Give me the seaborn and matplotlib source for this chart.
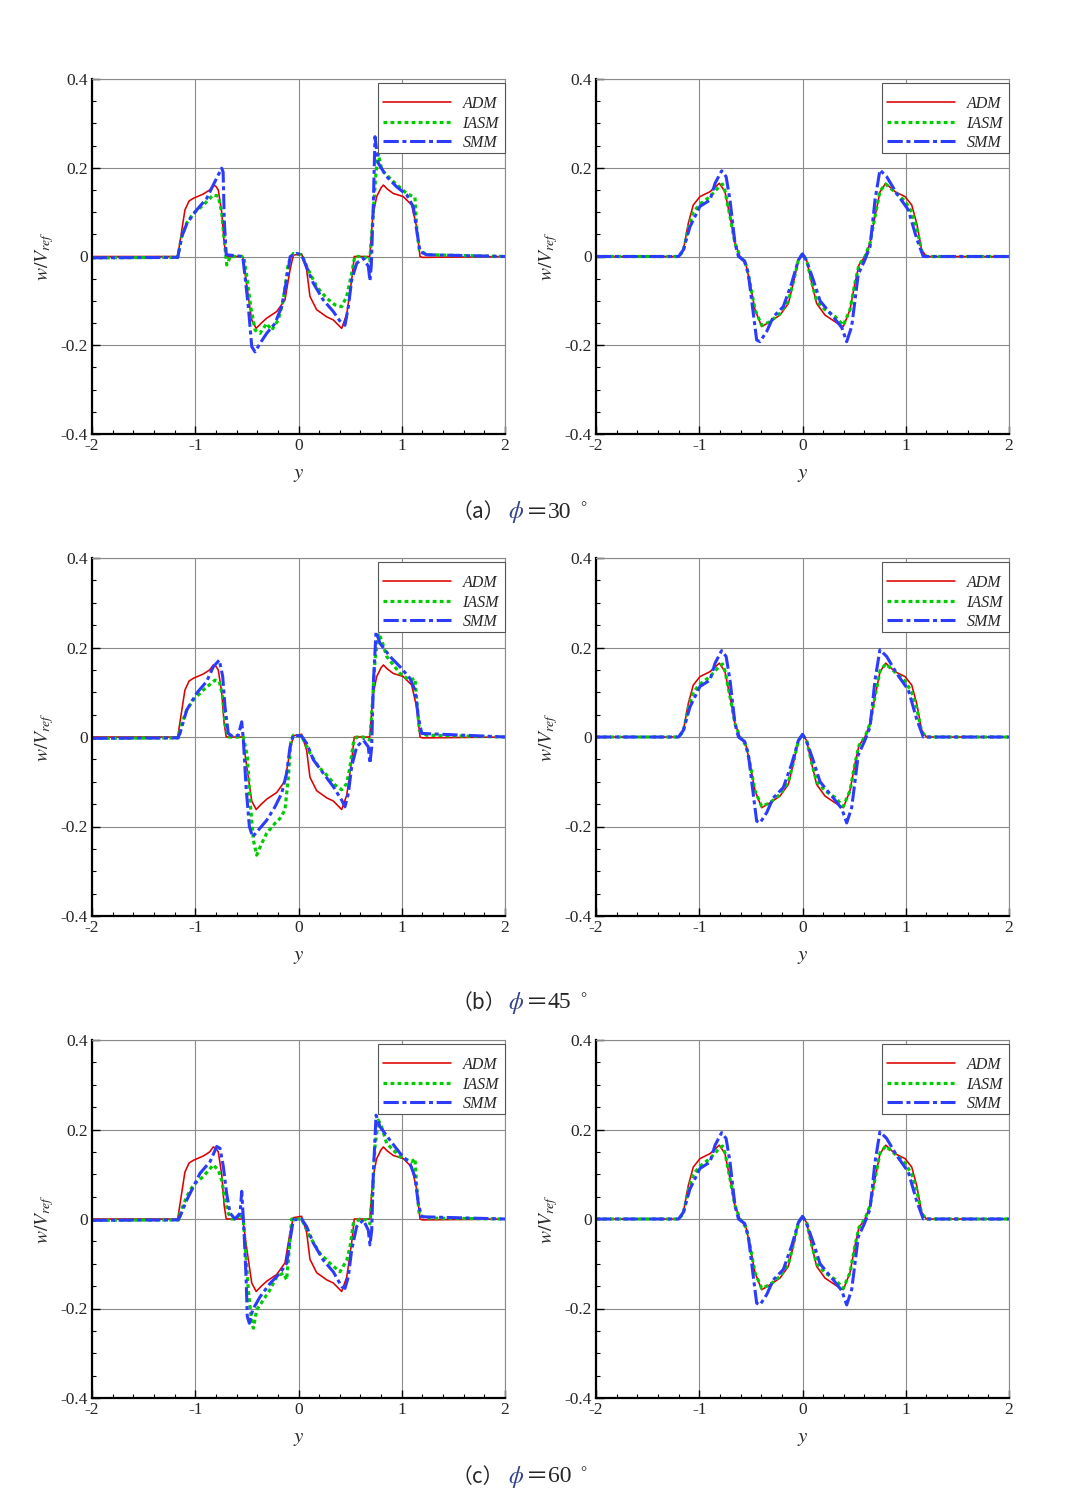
import matplotlib
matplotlib.use("Agg")
import matplotlib.pyplot as plt
import seaborn as sns
import pandas as pd
from matplotlib.ticker import MultipleLocator
from matplotlib.patches import Rectangle

# ---------------- data ----------------
X_TICKS = [-2, -1, 0, 1, 2]
X_TICKLABELS = ["-2", "-1", "0", "1", "2"]
Y_TICKS = [-0.4, -0.2, 0.0, 0.2, 0.4]
Y_TICKLABELS = ["-0.4", "-0.2", "0", "0.2", "0.4"]
SERIES = ["ADM", "IASM", "SMM"]
CAPTIONS = ["（a）", "（b）", "（c）"]
ANGLES = ["30", "45", "60"]

# left column, ADM (same in all rows)
ADM_L_Y = [-2, -1.17, -1.13, -1.10, -1.06, -1.02, -0.92, -0.86, -0.825, -0.80, -0.777, -0.744, -0.72, -0.70, -0.54,
           -0.50, -0.453, -0.41, -0.36, -0.308, -0.211, -0.131, -0.082, -0.05, 0.03, 0.079, 0.111, 0.176,
           0.273, 0.337, 0.418, 0.467, 0.515, 0.54, 0.69, 0.719, 0.757, 0.80, 0.822, 0.86, 0.918, 1.015,
           1.096, 1.144, 1.177, 1.2, 2]
ADM_L_W = [0, 0, 0.06, 0.105, 0.125, 0.131, 0.141, 0.150, 0.161, 0.158, 0.150, 0.10, 0.03, 0, 0,
           -0.068, -0.143, -0.162, -0.150, -0.139, -0.124, -0.098, -0.03, 0.003, 0.006, -0.03, -0.09, -0.12,
           -0.136, -0.143, -0.162, -0.13, -0.053, 0, 0, 0.09, 0.135, 0.155, 0.161, 0.152, 0.142, 0.135,
           0.116, 0.067, 0, -0.002, 0]

# row (a) left
IASM_A_Y = [-2, -1.17, -1.131, -1.083, -1.02, -0.922, -0.825, -0.777, -0.744, -0.719, -0.695, -0.66, -0.53,
            -0.496, -0.463, -0.42, -0.373, -0.308, -0.26, -0.196, -0.147, -0.099, -0.05, 0.03, 0.095,
            0.176, 0.273, 0.353, 0.418, 0.467, 0.515, 0.545, 0.6, 0.66, 0.69, 0.719, 0.75, 0.773, 0.806,
            0.918, 1.048, 1.128, 1.144, 1.17, 1.24, 2]
IASM_A_W = [-0.003, -0.002, 0.045, 0.075, 0.097, 0.116, 0.139, 0.136, 0.10, 0.037, -0.019, 0, 0,
            -0.053, -0.113, -0.166, -0.173, -0.151, -0.166, -0.143, -0.098, -0.015, 0.007, 0.004, -0.03,
            -0.068, -0.094, -0.109, -0.113, -0.09, -0.038, 0, 0, -0.003, -0.01, 0.082, 0.187, 0.232, 0.195,
            0.169, 0.142, 0.133, 0.067, 0.015, 0.004, 0]
SMM_A_Y = [-2, -1.17, -1.13, -1.08, -0.986, -0.889, -0.809, -0.744, -0.73, -0.719, -0.70, -0.54,
           -0.518, -0.486, -0.453, -0.421, -0.373, -0.308, -0.228, -0.163, -0.115, -0.08, -0.02, 0.03,
           0.08, 0.143, 0.24, 0.337, 0.418, 0.45, 0.483, 0.515, 0.564, 0.628, 0.676, 0.692, 0.705, 0.724,
           0.741, 0.773, 0.854, 0.951, 1.048, 1.112, 1.144, 1.177, 1.24, 2]
SMM_A_W = [-0.003, -0.002, 0.045, 0.075, 0.105, 0.131, 0.169, 0.199, 0.19, 0.082, 0.004, 0,
           -0.045, -0.113, -0.203, -0.215, -0.196, -0.173, -0.151, -0.113, -0.053, 0, 0.007, 0.004,
           -0.025, -0.06, -0.098, -0.124, -0.151, -0.155, -0.113, -0.053, -0.015, -0.004, -0.022, -0.055,
           -0.02, 0.112, 0.27, 0.21, 0.18, 0.157, 0.139, 0.112, 0.06, 0.011, 0.004, 0]

# row (b) left
IASM_B_Y = [-2, -1.163, -1.131, -1.083, -1.018, -0.922, -0.809, -0.767, -0.734, -0.712, -0.68, -0.534,
            -0.495, -0.47, -0.437, -0.405, -0.357, -0.308, -0.228, -0.179, -0.131, -0.098, -0.073, -0.05,
            0.03, 0.111, 0.192, 0.273, 0.353, 0.418, 0.467, 0.499, 0.531, 0.563, 0.628, 0.692, 0.718,
            0.741, 0.773, 0.805, 0.854, 0.983, 1.08, 1.128, 1.145, 1.17, 1.24, 2]
IASM_B_W = [-0.003, -0.002, 0.03, 0.06, 0.083, 0.105, 0.127, 0.124, 0.09, 0.03, 0, 0,
            -0.044, -0.141, -0.23, -0.264, -0.238, -0.215, -0.193, -0.182, -0.163, -0.089, -0.007, 0.004,
            0.002, -0.036, -0.066, -0.085, -0.107, -0.118, -0.104, -0.066, -0.014, 0, 0, -0.007, 0.083,
            0.172, 0.232, 0.217, 0.18, 0.142, 0.127, 0.131, 0.083, 0.015, 0.004, 0]
SMM_B_Y = [-2, -1.17, -1.148, -1.083, -0.986, -0.89, -0.825, -0.767, -0.734, -0.712, -0.68, -0.631, -0.583,
           -0.55, -0.534, -0.508, -0.476, -0.444, -0.389, -0.308, -0.228, -0.163, -0.115, -0.082, -0.05,
           0.03, 0.079, 0.144, 0.24, 0.337, 0.418, 0.45, 0.483, 0.515, 0.563, 0.628, 0.676, 0.692, 0.709,
           0.725, 0.751, 0.79, 0.886, 0.983, 1.08, 1.128, 1.16, 1.193, 2]
SMM_B_W = [-0.003, -0.002, 0.008, 0.06, 0.098, 0.124, 0.157, 0.172, 0.135, 0.068, 0.008, 0, 0.004,
           0.034, -0.007, -0.111, -0.2, -0.223, -0.208, -0.186, -0.156, -0.126, -0.081, -0.022, 0.004,
           0.002, -0.014, -0.051, -0.081, -0.111, -0.141, -0.156, -0.126, -0.066, -0.022, -0.007, -0.022,
           -0.059, -0.022, 0.12, 0.235, 0.209, 0.18, 0.157, 0.131, 0.105, 0.045, 0.008, 0]

# row (c) left
IASM_C_Y = [-2, -1.16, -1.148, -1.083, -1.018, -0.922, -0.825, -0.776, -0.744, -0.712, -0.68, -0.647, -0.6,
            -0.566, -0.534, -0.508, -0.486, -0.453, -0.437, -0.405, -0.341, -0.276, -0.211, -0.147, -0.115,
            -0.082, -0.066, 0.03, 0.111, 0.208, 0.305, 0.402, 0.467, 0.499, 0.531, 0.596, 0.66, 0.692,
            0.718, 0.741, 0.773, 0.805, 0.854, 0.983, 1.096, 1.128, 1.145, 1.17, 1.24, 2]
IASM_C_W = [-0.003, -0.002, 0.013, 0.05, 0.076, 0.095, 0.121, 0.109, 0.087, 0.042, 0.013, 0, 0,
            0.013, -0.002, -0.084, -0.158, -0.233, -0.244, -0.203, -0.181, -0.158, -0.129, -0.121, -0.136,
            -0.047, 0, 0, -0.04, -0.077, -0.099, -0.118, -0.092, -0.062, -0.01, 0, -0.002, -0.011,
            0.065, 0.162, 0.221, 0.206, 0.169, 0.139, 0.128, 0.135, 0.072, 0.009, 0.002, 0]
SMM_C_Y = [-2, -1.17, -1.148, -1.083, -1.018, -0.954, -0.857, -0.792, -0.76, -0.728, -0.696, -0.663, -0.615,
           -0.566, -0.55, -0.528, -0.508, -0.496, -0.476, -0.444, -0.373, -0.276, -0.179, -0.115, -0.082,
           -0.05, 0.03, 0.079, 0.144, 0.24, 0.337, 0.418, 0.45, 0.483, 0.515, 0.563, 0.628, 0.676, 0.692,
           0.709, 0.725, 0.751, 0.79, 0.886, 0.983, 1.08, 1.128, 1.16, 1.193, 2]
SMM_C_W = [-0.003, -0.002, 0.005, 0.042, 0.072, 0.102, 0.128, 0.162, 0.158, 0.117, 0.057, 0.013, 0,
           0.013, 0.062, -0.025, -0.129, -0.218, -0.233, -0.203, -0.174, -0.144, -0.121, -0.099, -0.047,
           -0.002, 0, -0.017, -0.054, -0.092, -0.118, -0.151, -0.155, -0.129, -0.069, -0.017, -0.002,
           -0.025, -0.058, -0.025, 0.102, 0.232, 0.206, 0.176, 0.147, 0.124, 0.094, 0.035, 0.005, 0]

# right column (same in all rows)
ADM_R_Y = [-2, -1.2, -1.154, -1.106, -1.058, -0.993, -0.896, -0.806, -0.751, -0.702, -0.654, -0.605, -0.547,
           -0.508, -0.46, -0.395, -0.315, -0.218, -0.137, -0.089, -0.04, 0, 0.04, 0.089, 0.137, 0.218,
           0.315, 0.395, 0.46, 0.508, 0.547, 0.605, 0.654, 0.702, 0.751, 0.806, 0.896, 0.993, 1.058,
           1.106, 1.154, 1.2, 2]
ADM_R_W = [0, 0, 0.015, 0.075, 0.116, 0.135, 0.146, 0.165, 0.146, 0.09, 0.03, 0, -0.019,
           -0.06, -0.12, -0.158, -0.147, -0.132, -0.106, -0.06, -0.008, 0.006, -0.008, -0.06, -0.106, -0.132,
           -0.147, -0.158, -0.12, -0.06, -0.019, 0, 0.03, 0.09, 0.146, 0.165, 0.146, 0.135, 0.116,
           0.075, 0.015, 0, 0]
IASM_R_Y = [-2, -1.2, -1.154, -1.106, -1.058, -0.993, -0.896, -0.806, -0.775, -0.751, -0.702, -0.654, -0.605,
            -0.547, -0.508, -0.46, -0.395, -0.315, -0.218, -0.137, -0.089, -0.04, 0, 0.04, 0.089, 0.137,
            0.218, 0.315, 0.395, 0.46, 0.508, 0.547, 0.605, 0.654, 0.702, 0.751, 0.806, 0.896, 0.993,
            1.058, 1.106, 1.154, 1.2, 2]
IASM_R_W = [0, 0, 0.012, 0.065, 0.1, 0.118, 0.135, 0.158, 0.163, 0.148, 0.09, 0.03, 0,
            -0.019, -0.06, -0.12, -0.155, -0.147, -0.128, -0.1, -0.058, -0.008, 0.006, -0.008, -0.058, -0.1,
            -0.12, -0.135, -0.155, -0.12, -0.06, -0.019, 0, 0.03, 0.09, 0.148, 0.163, 0.145, 0.125,
            0.1, 0.065, 0.012, 0, 0]
SMM_R_Y = [-2, -1.2, -1.154, -1.09, -0.993, -0.896, -0.847, -0.783, -0.74, -0.702, -0.654, -0.62, -0.56,
           -0.525, -0.492, -0.444, -0.412, -0.347, -0.283, -0.186, -0.105, -0.04, 0, 0.04, 0.105, 0.17,
           0.298, 0.38, 0.428, 0.476, 0.508, 0.54, 0.6, 0.654, 0.702, 0.75, 0.815, 0.912, 1.025, 1.106,
           1.17, 1.2, 2]
SMM_R_W = [0, 0, 0.015, 0.067, 0.113, 0.127, 0.165, 0.193, 0.18, 0.127, 0.03, 0, -0.01,
           -0.038, -0.10, -0.188, -0.192, -0.169, -0.136, -0.113, -0.06, -0.008, 0.006, -0.01, -0.053, -0.10,
           -0.136, -0.16, -0.192, -0.158, -0.10, -0.04, -0.01, 0.022, 0.127, 0.195, 0.18, 0.142, 0.105, 0.04,
           0, 0, 0]

LEFT = [
    [(ADM_L_Y, ADM_L_W), (IASM_A_Y, IASM_A_W), (SMM_A_Y, SMM_A_W)],
    [(ADM_L_Y, ADM_L_W), (IASM_B_Y, IASM_B_W), (SMM_B_Y, SMM_B_W)],
    [(ADM_L_Y, ADM_L_W), (IASM_C_Y, IASM_C_W), (SMM_C_Y, SMM_C_W)],
]
RIGHT = [(ADM_R_Y, ADM_R_W), (IASM_R_Y, IASM_R_W), (SMM_R_Y, SMM_R_W)]

# ---------------- style ----------------
sns.set_style("white")
plt.rcParams["font.family"] = ["Liberation Serif", "Noto Sans CJK SC"]
plt.rcParams["mathtext.fontset"] = "stix"
plt.rcParams["axes.unicode_minus"] = False

STYLES = {
    "ADM": dict(color="#e00000", lw=1.15, linestyle="-"),
    "IASM": dict(color="#00cc00", lw=2.3, linestyle=(0, (1.2, 1.0))),
    "SMM": dict(color="#2b3cff", lw=2.2, linestyle=(0, (5.0, 1.2, 1.3, 1.2))),
}

W, H = 1075, 1502
fig = plt.figure(figsize=(W / 100, H / 100), dpi=100)

ROW_TOPS = [79, 558, 1040]
ROW_BOTS = [434, 916, 1398]
COL_LEFTS = [92, 596]
AX_W = 413
SERIF = "Liberation Serif"


def style_axes(ax):
    ax.set_xlim(-2, 2)
    ax.set_ylim(-0.4, 0.4)
    ax.set_xticks(X_TICKS)
    ax.set_xticklabels(X_TICKLABELS, fontfamily=SERIF)
    ax.set_yticks(Y_TICKS)
    ax.set_yticklabels(Y_TICKLABELS, fontfamily=SERIF)
    ax.xaxis.set_minor_locator(MultipleLocator(0.2))
    ax.yaxis.set_minor_locator(MultipleLocator(0.05))
    ax.tick_params(which="major", direction="in", length=6, width=1.0, labelsize=12.5,
                   pad=3, bottom=True, left=True, top=False, right=False, color="black")
    ax.tick_params(which="minor", direction="in", length=3, width=0.8,
                   bottom=True, left=True, top=False, right=False, color="black")
    ax.grid(True, which="major", color="#8a8a8a", lw=0.8)
    ax.set_axisbelow(True)
    for s in ["left", "bottom"]:
        ax.spines[s].set_color("black")
        ax.spines[s].set_linewidth(1.6)
    for s in ["top", "right"]:
        ax.spines[s].set_color("#8a8a8a")
        ax.spines[s].set_linewidth(0.8)
    ax.set_xlabel("$y$", fontsize=15, labelpad=8)
    ax.set_ylabel("$w/V_{ref}$", fontsize=14, labelpad=3)


for r in range(3):
    for c in range(2):
        left = COL_LEFTS[c] / W
        bottom = 1 - ROW_BOTS[r] / H
        hpx = ROW_BOTS[r] - ROW_TOPS[r]
        ax = fig.add_axes([left, bottom, AX_W / W, hpx / H])
        data = LEFT[r] if c == 0 else RIGHT
        for name, (yy, ww) in zip(SERIES, data):
            df = pd.DataFrame({"y": yy, "w": ww})
            sns.lineplot(data=df, x="y", y="w", ax=ax, sort=False, estimator=None,
                         errorbar=None, label=name, **STYLES[name])
        style_axes(ax)
        # legend frame drawn as a separate box (top 4 px, bottom 74 px below axes top)
        box_l = (378 - 92) / AX_W
        box_top = 1 - 4 / hpx
        box_bot = 1 - 74 / hpx
        ax.add_patch(Rectangle((box_l, box_bot), 1 - box_l, box_top - box_bot, transform=ax.transAxes,
                               facecolor="white", edgecolor="#555555", lw=0.8, zorder=4.5,
                               clip_on=False))
        leg = ax.legend(loc="upper right", bbox_to_anchor=((499 - 92) / AX_W, 1 - 17 / hpx),
                        borderaxespad=0, handlelength=4.3, handletextpad=0.7, labelspacing=0.22,
                        borderpad=0, frameon=False,
                        prop={"style": "italic", "size": 11.5, "family": SERIF})
        leg.set_zorder(5)

# captions
CAP_Y = [512, 1003, 1477]
for r in range(3):
    yc = 1 - CAP_Y[r] / H
    fig.text(452 / W, yc, CAPTIONS[r], fontsize=15, family=["Noto Sans CJK SC"], ha="left", va="center")
    fig.text(508 / W, yc, r"$\phi$", fontsize=17, ha="left", va="center", color="#334488")
    fig.text(526 / W, yc, "＝", fontsize=16, family=["Noto Sans CJK SC"], ha="left", va="center")
    fig.text(548 / W, yc, ANGLES[r], fontsize=17, family=[SERIF], ha="left", va="center")
    fig.text(580 / W, yc + 4 / H, "°", fontsize=11, family=[SERIF], ha="left", va="center")

fig.savefig("out.png", dpi=100)
